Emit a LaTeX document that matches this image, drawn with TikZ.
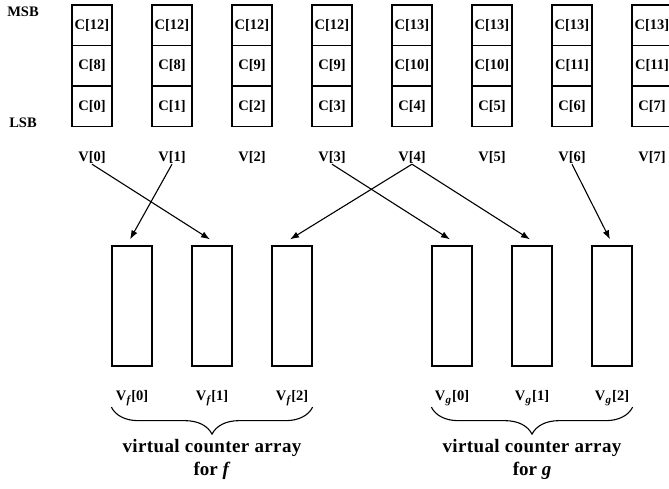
\documentclass[tikz,border=0pt]{standalone}
\usepackage{fontspec}
\setmainfont{Liberation Serif}
\usetikzlibrary{arrows.meta,decorations.pathreplacing}
\newcommand{\vsub}[1]{\kern0.3pt\raisebox{-3.5pt}{\fontsize{11}{11}\selectfont\itshape #1}\kern1pt}
\begin{document}
\begin{tikzpicture}[x=1pt,y=-1pt,
  cell/.style={draw,line width=1.2pt,minimum width=40pt,minimum height=40.5pt,inner sep=0pt,font=\fontsize{14.5}{14.5}\selectfont\bfseries},
  vbox/.style={draw,line width=1.2pt,minimum width=40pt,minimum height=120pt,inner sep=0pt},
  lbl/.style={inner sep=1pt,font=\fontsize{14.5}{14.5}\selectfont\bfseries},
  captxt/.style={align=center,inner sep=0pt,font=\fontsize{19}{23}\selectfont\bfseries},
  arr/.style={-{Latex[length=9pt,width=6.5pt]},line width=1.1pt},
  brc/.style={decorate,decoration={brace,mirror,amplitude=27pt},line width=1.1pt}]
\useasboundingbox (0,0) rectangle (669,489);
\clip (0,0) rectangle (669,489);
% MSB / LSB
\node[lbl] (msb) at (23,12) {MSB};
\node[lbl] (lsb) at (23,123) {LSB};
% counter columns
\foreach \k/\a/\b/\c in {0/12/8/0,1/12/8/1,2/12/9/2,3/12/9/3,4/13/10/4,5/13/10/5,6/13/11/6,7/13/11/7}{
  \node[cell] (c\k a) at (92+80*\k,25.25) {C[\a]};
  \node[cell] (c\k b) at (92+80*\k,65.75) {C[\b]};
  \node[cell] (c\k c) at (92+80*\k,106.25) {C[\c]};
  \node[lbl] (v\k) at (92+80*\k,157) {V[\k]};
}
% virtual counters
\foreach \k in {0,1,2}{
  \node[vbox] (f\k) at (132+80*\k,306) {};
  \node[lbl] (fl\k) at (132+80*\k,398) {V\vsub{f}[\k]};
  \node[vbox] (g\k) at (452+80*\k,306) {};
  \node[lbl] (gl\k) at (452+80*\k,398) {V\vsub{g}[\k]};
}
% arrows
\draw[arr] (v0.south) -- ([xshift=-2pt,yshift=6pt]f1.north);
\draw[arr] (v1.south) -- ([xshift=-2pt,yshift=6pt]f0.north);
\draw[arr] (v3.south) -- ([xshift=-2pt,yshift=6pt]g0.north);
\draw[arr] (v4.south) -- ([xshift=-2pt,yshift=6pt]f2.north);
\draw[arr] (v4.south) -- ([xshift=-2pt,yshift=6pt]g1.north);
\draw[arr] (v6.south) -- ([xshift=-2pt,yshift=6pt]g2.north);
% braces
\draw[brc] (f0.west |- fl0.south) -- (f2.east |- fl2.south);
\draw[brc] (g0.west |- gl0.south) -- (g2.east |- gl2.south);
\node[captxt] (capf) at (212,459) {{\addfontfeature{LetterSpace=2}virtual counter array}\\for \textit{f}};
\node[captxt] (capg) at (532,459) {{\addfontfeature{LetterSpace=2}virtual counter array}\\for \textit{g}};
\end{tikzpicture}
\end{document}
